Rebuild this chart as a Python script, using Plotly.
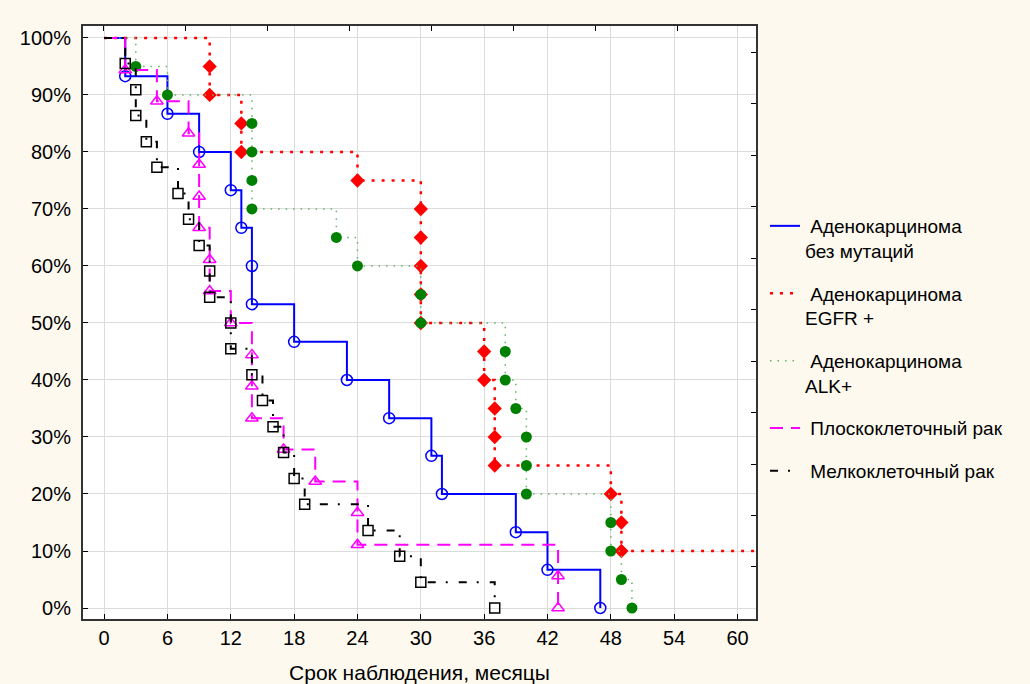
import plotly.graph_objects as go

# Kaplan-Meier survival data (months, % surviving)
blue_name = "\u00a0Аденокарцинома<br>без мутаций"
blue_t = [0, 2, 6, 9, 12, 13, 14, 14, 18, 23, 27, 31, 32, 39, 42, 47]
blue_s = [100, 93.3, 86.7, 80, 73.3, 66.7, 60, 53.3, 46.7, 40, 33.3, 26.7, 20, 13.3, 6.7, 0]

red_name = "\u00a0Аденокарцинома<br>EGFR +"
red_t = [0, 10, 10, 13, 13, 24, 30, 30, 30, 30, 30, 36, 36, 37, 37, 37, 48, 49, 49]
red_s = [100, 95, 90, 85, 80, 75, 70, 65, 60, 55, 50, 45, 40, 35, 30, 25, 20, 15, 10]
red_followup_end = 63

green_name = "\u00a0Аденокарцинома<br>ALK+"
green_t = [0, 3, 6, 14, 14, 14, 14, 22, 24, 30, 30, 38, 38, 39, 40, 40, 40, 48, 48, 49, 50]
green_s = [100, 95, 90, 85, 80, 75, 70, 65, 60, 55, 50, 45, 40, 35, 30, 25, 20, 15, 10, 5, 0]

mag_name = "\u00a0Плоскоклеточный рак"
mag_t = [0, 2, 5, 8, 9, 9, 9, 10, 10, 12, 14, 14, 14, 17, 20, 24, 24, 43, 43]
mag_s = [100, 94.4, 88.9, 83.3, 77.8, 72.2, 66.7, 61.1, 55.6, 50, 44.4, 38.9, 33.3,
         27.8, 22.2, 16.7, 11.1, 5.6, 0]

blk_name = "\u00a0Мелкоклеточный рак"
blk_t = [0, 2, 3, 3, 4, 5, 7, 8, 9, 10, 10, 12, 12, 14, 15, 16, 17, 18, 19, 25, 28, 30, 37]
blk_s = [100, 95.5, 90.9, 86.4, 81.8, 77.3, 72.7, 68.2, 63.6, 59.1, 54.5, 50, 45.5,
         40.9, 36.4, 31.8, 27.3, 22.7, 18.2, 13.6, 9.1, 4.5, 0]

x_ticks = [0, 6, 12, 18, 24, 30, 36, 42, 48, 54, 60]
y_ticks = [0, 10, 20, 30, 40, 50, 60, 70, 80, 90, 100]
y_ticktext = [f"{v}%" for v in y_ticks]
x_title = "Срок наблюдения, месяцы"

FONT = "Liberation Sans, Arial, sans-serif"

fig = go.Figure()

series = [
    dict(name=blue_name, t=blue_t, s=blue_s, lc="#0000ff", lw=2, dash="solid",
         sym="circle-open", mc="#0000ff", ms=11, mlw=1.5, extend=None),
    dict(name=red_name, t=red_t, s=red_s, lc="#ff0000", lw=2.5, dash="3px,7px",
         sym="diamond", mc="#ff0000", ms=11, mlw=0, extend=red_followup_end),
    dict(name=green_name, t=green_t, s=green_s, lc="#66b266", lw=1.5, dash="1.5px,6px",
         sym="circle", mc="#008000", ms=11, mlw=0, extend=None),
    dict(name=mag_name, t=mag_t, s=mag_s, lc="#ff00ff", lw=2, dash="13px,8px",
         sym="triangle-up-open", mc="#ff00ff", ms=11, mlw=1.5, extend=None),
    dict(name=blk_name, t=blk_t, s=blk_s, lc="#000000", lw=2, dash="8px,10px,2px,11px",
         sym="square-open", mc="#000000", ms=10, mlw=1.5, extend=None),
]

for i, sr in enumerate(series):
    lt = list(sr["t"])
    ls = list(sr["s"])
    if sr["extend"] is not None:
        lt.append(sr["extend"])
        ls.append(ls[-1])
    grp = f"g{i}"
    fig.add_trace(go.Scatter(
        x=lt, y=ls, mode="lines", name=sr["name"], legendgroup=grp,
        line=dict(color=sr["lc"], width=sr["lw"], dash=sr["dash"], shape="hv"),
        cliponaxis=True,
    ))
    fig.add_trace(go.Scatter(
        x=sr["t"][1:], y=sr["s"][1:], mode="markers", showlegend=False, legendgroup=grp,
        marker=dict(symbol=sr["sym"], color=sr["mc"], size=sr["ms"],
                    line=dict(color=sr["mc"], width=sr["mlw"])),
        cliponaxis=True, hoverinfo="x+y",
    ))

fig.update_layout(
    width=1030, height=684,
    margin=dict(l=83, r=274, t=26, b=65),
    paper_bgcolor="#fdf9ee",
    plot_bgcolor="#ffffff",
    font=dict(family=FONT, size=20, color="#000000"),
    showlegend=True,
    legend=dict(
        x=(765 - 83) / 673, xanchor="left",
        y=1 - (207 - 26) / 593, yanchor="top",
        bgcolor="rgba(0,0,0,0)",
        traceorder="grouped", tracegroupgap=15,
        valign="top",
        font=dict(family=FONT, size=19, color="#000000"),
        itemwidth=30,
    ),
    xaxis=dict(
        range=[-2.0, 61.75], tickvals=x_ticks, ticks="inside", ticklen=5,
        tickcolor="#000000", showline=True, linecolor="#333333", linewidth=2,
        mirror=True, showgrid=True, gridcolor="#dcdcdc", gridwidth=1,
        zeroline=False, automargin=False,
        title=dict(text=x_title, standoff=18, font=dict(family=FONT, size=21)),
        tickfont=dict(family=FONT, size=20),
    ),
    yaxis=dict(
        range=[-1.93, 102.1], tickvals=y_ticks, ticktext=y_ticktext, ticks="inside",
        ticklen=5, tickcolor="#000000", showline=True, linecolor="#333333",
        linewidth=2, mirror=True, showgrid=True, gridcolor="#dcdcdc", gridwidth=1,
        zeroline=False, automargin=False,
        tickfont=dict(family=FONT, size=20), ticklabelstandoff=6,
    ),
    xaxis2=dict(
        overlaying="x", side="top", range=[-2.0, 61.75], tick0=-0.1, dtick=7.77,
        ticks="inside", ticklen=5, tickcolor="#000000", showticklabels=False,
        showgrid=False, zeroline=False, showline=False, automargin=False,
    ),
    yaxis2=dict(
        overlaying="y", side="right", range=[-1.93, 102.1], tick0=7.2, dtick=9.03,
        ticks="inside", ticklen=5, tickcolor="#000000", showticklabels=False,
        showgrid=False, zeroline=False, showline=False, automargin=False,
    ),
)

# invisible trace to activate the secondary axes (ticks only)
fig.add_trace(go.Scatter(x=[None], y=[None], xaxis="x2", yaxis="y2",
                         showlegend=False, hoverinfo="skip"))

fig.write_html("out.html", config={"displayModeBar": False},
               post_script="document.body.style.margin='0';document.body.style.overflow='hidden';")
